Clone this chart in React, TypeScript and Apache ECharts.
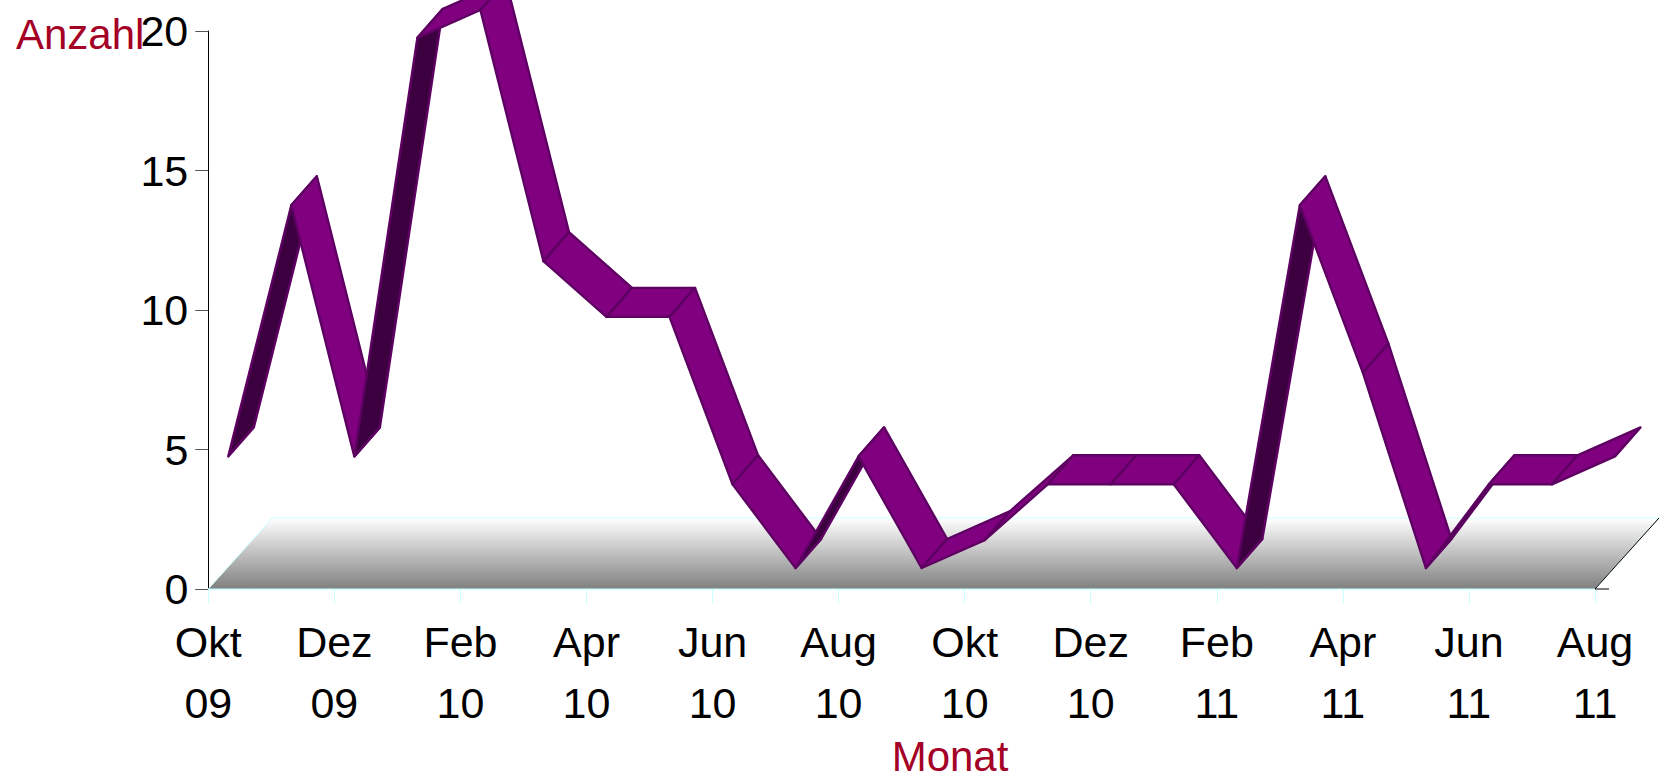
import React, { useEffect, useRef } from "react";
import * as echarts from "echarts";

const months = [
  "Okt 09", "Nov 09", "Dez 09", "Jan 10", "Feb 10", "Mrz 10", "Apr 10", "Mai 10",
  "Jun 10", "Jul 10", "Aug 10", "Sep 10", "Okt 10", "Nov 10", "Dez 10", "Jan 11",
  "Feb 11", "Mrz 11", "Apr 11", "Mai 11", "Jun 11", "Jul 11", "Aug 11",
];
const counts = [4, 13, 4, 19, 20, 11, 9, 9, 3, 0, 4, 0, 1, 3, 3, 3, 0, 13, 7, 0, 3, 3, 4];
const yTitle = "Anzahl";
const xTitle = "Monat";

const FONT = "'Liberation Sans', Arial, sans-serif";
const TITLE = "#a50026";
const CYAN = "#ccffff";
const TOP = "#800080";
const UNDER = "#3c0040";
const EDGE = "#5e0062";
// ribbon placement inside the depth of the box, in pixels
const FRONT = [20, -21];
const BACK = [45.5, -50];
const DEPTH = [64, -71];

export default function App() {
  const ref = useRef<HTMLDivElement>(null);
  useEffect(() => {
    const chart = echarts.init(ref.current!, null, { renderer: "svg" });
    const segments = counts.slice(0, -1).map((v, i) => [i, v, counts[i + 1]]);
    chart.setOption({
      animation: false,
      backgroundColor: "#fff",
      grid: { left: 208.3, right: 64, top: 31, bottom: 190 },
      xAxis: {
        type: "category",
        boundaryGap: false,
        data: months,
        axisLine: { lineStyle: { color: CYAN, width: 1 } },
        axisTick: { interval: 1, length: 15, lineStyle: { color: CYAN, width: 1 } },
        axisLabel: {
          interval: 1,
          margin: 22,
          color: "#000",
          fontFamily: FONT,
          fontSize: 43,
          lineHeight: 61,
          formatter: (s: string) => s.replace(" ", "\n"),
        },
      },
      yAxis: {
        type: "value",
        min: 0,
        max: 20,
        interval: 5,
        splitLine: { show: false },
        axisLine: { show: true, lineStyle: { color: "#000", width: 1 } },
        axisTick: { show: true, length: 13, lineStyle: { color: "#555", width: 1 } },
        axisLabel: { margin: 20, color: "#000", fontFamily: FONT, fontSize: 43 },
      },
      graphic: [
        {
          type: "text",
          x: 16,
          y: 34,
          style: { text: yTitle, fill: TITLE, font: `42px ${FONT}`, textVerticalAlign: "middle" },
        },
        {
          type: "text",
          x: 950,
          y: 756,
          style: { text: xTitle, fill: TITLE, font: `42px ${FONT}`, textAlign: "center", textVerticalAlign: "middle" },
        },
      ],
      series: [
        {
          type: "custom",
          z: 1,
          silent: true,
          data: [[0, 0, months.length - 1]],
          encode: { x: 0, y: 1 },
          renderItem: (_p: any, api: any) => {
            const a = api.coord([api.value(0), api.value(1)]);
            const b = api.coord([api.value(2), api.value(1)]);
            const c = [b[0] + DEPTH[0], b[1] + DEPTH[1]];
            const d = [a[0] + DEPTH[0], a[1] + DEPTH[1]];
            return {
              type: "group",
              children: [
                {
                  type: "polygon",
                  shape: { points: [a, b, c, d] },
                  style: {
                    fill: new echarts.graphic.LinearGradient(0, 1, 0, 0, [
                      { offset: 0, color: "#808080" },
                      { offset: 1, color: "#ffffff" },
                    ]),
                    stroke: CYAN,
                    lineWidth: 1,
                  },
                },
                { type: "line", shape: { x1: b[0], y1: b[1], x2: c[0], y2: c[1] }, style: { stroke: "#000", lineWidth: 1 } },
                { type: "line", shape: { x1: b[0], y1: b[1], x2: b[0] + 14, y2: b[1] }, style: { stroke: "#000", lineWidth: 1 } },
              ],
            };
          },
        },
        {
          type: "custom",
          z: 3,
          silent: true,
          clip: false,
          data: segments,
          encode: { x: 0, y: 1 },
          renderItem: (_p: any, api: any) => {
            const i = api.value(0);
            const p = api.coord([i, api.value(1)]);
            const q = api.coord([i + 1, api.value(2)]);
            const pts = [
              [p[0] + FRONT[0], p[1] + FRONT[1]],
              [q[0] + FRONT[0], q[1] + FRONT[1]],
              [q[0] + BACK[0], q[1] + BACK[1]],
              [p[0] + BACK[0], p[1] + BACK[1]],
            ];
            const dx = q[0] - p[0];
            const dy = q[1] - p[1];
            const ox = BACK[0] - FRONT[0];
            const oy = BACK[1] - FRONT[1];
            const under = dx * oy - dy * ox > 0;
            return {
              type: "polygon",
              shape: { points: pts },
              style: { fill: under ? UNDER : TOP, stroke: EDGE, lineWidth: 2.4, lineJoin: "round" },
            };
          },
        },
      ],
    });
    return () => chart.dispose();
  }, []);
  return <div ref={ref} style={{ position: "fixed", left: 0, top: 0, width: 1659, height: 779 }} />;
}
